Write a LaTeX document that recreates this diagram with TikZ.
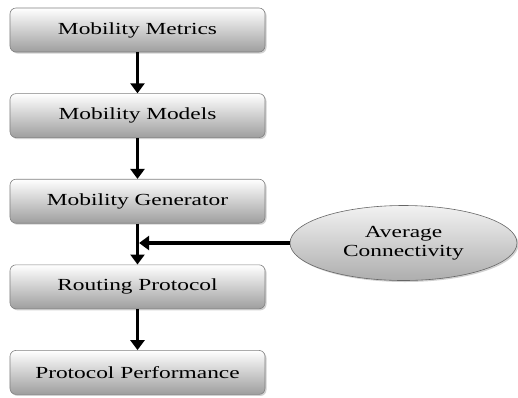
\documentclass[tikz,border=0pt]{standalone}
\usepackage{fontspec}
\setmainfont{Liberation Serif}[FakeStretch=1.38]
\usetikzlibrary{positioning,shapes.geometric,shadows,arrows.meta}
\tikzset{
	stage/.style={draw=black!50, line width=0.6bp, rounded corners=6bp, minimum width=255bp, minimum height=44bp, top color=white, bottom color=black!38, drop shadow={shadow xshift=1.5bp, shadow yshift=-1.5bp, opacity=0.3, fill=black!60}, font=\fontsize{17}{20}\selectfont},
	factor/.style={ellipse, draw=black!60, line width=0.6bp, minimum width=227bp, minimum height=75bp, inner sep=0pt, top color=black!5, bottom color=black!32, drop shadow={shadow xshift=1.5bp, shadow yshift=-1.5bp, opacity=0.3, fill=black!60}, align=center, font=\fontsize{17}{19}\selectfont},
	flow/.style={line width=3.2bp, -{Triangle[width=14bp,length=10bp]}}
}
\begin{document}
\begin{tikzpicture}[x=1bp,y=1bp]
		\useasboundingbox (0,0) rectangle (518,-397);
		\node [stage] (metrics) at (137.5,-30) {Mobility Metrics};
		\node [stage, below=41bp of metrics] (models) {Mobility Models};
		\node [stage, below=41bp of models] (generator) {Mobility Generator};
		\node [stage, below=41bp of generator] (routing) {Routing Protocol};
		\node [stage, below=41bp of routing] (performance) {Protocol Performance};
		\node [factor] (connectivity) at (403.5,-243) {Average\\Connectivity};
		\coordinate (join) at ([xshift=1.6bp]connectivity.west -| generator.south);
		\draw [flow] (metrics) -- (models);
		\draw [flow] (models) -- (generator);
		\draw [flow] (generator) -- (routing);
		\draw [flow] (routing) -- (performance);
		\draw [flow] (connectivity) -- (join);
	\end{tikzpicture}
\end{document}
